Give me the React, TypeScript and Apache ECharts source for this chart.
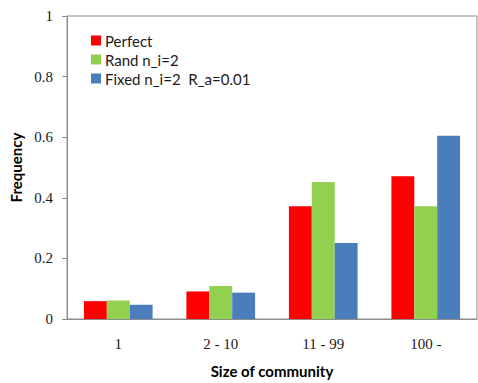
import React, { useEffect, useRef } from "react";
import * as echarts from "echarts";

const categories = ["1", "2 - 10", "11 - 99", "100 -"];
const perfect = [0.059, 0.091, 0.372, 0.471];
const randNi2 = [0.061, 0.109, 0.452, 0.372];
const fixedNi2 = [0.047, 0.087, 0.251, 0.605];
const yTicks = ["0", "0.2", "0.4", "0.6", "0.8", "1"];
const seriesNames = ["Perfect", "Rand n_i=2", "Fixed n_i=2  R_a=0.01"];
const colors = ["#FF0000", "#92D050", "#4A7EBB"];

export default function App() {
  const ref = useRef<HTMLDivElement>(null);
  useEffect(() => {
    const chart = echarts.init(ref.current!, null, { renderer: "svg" });
    const data = [perfect, randNi2, fixedNi2];
    chart.setOption({
      animation: false,
      backgroundColor: "#ffffff",
      grid: {
        left: 67,
        top: 16,
        right: 1,
        bottom: 59,
        show: true,
        borderColor: "#8C8C8C",
        borderWidth: 1,
      },
      legend: {
        orient: "vertical",
        left: 86,
        top: 28,
        itemWidth: 10,
        itemHeight: 10,
        itemGap: 4,
        icon: "rect",
        textStyle: { fontFamily: "Lato", fontSize: 15, lineHeight: 15, color: "#1a1a1a", padding: [0, 0, 0, -1] },
        data: seriesNames,
      },
      xAxis: {
        type: "category",
        data: categories,
        name: "Size of community",
        nameLocation: "middle",
        nameGap: 44,
        nameTextStyle: { fontFamily: "Lato", fontWeight: "bold", fontSize: 15, color: "#000" },
        axisLine: { lineStyle: { color: "#8C8C8C" } },
        axisTick: { show: false },
        axisLabel: { fontFamily: "Liberation Serif", fontSize: 15, color: "#1a1a1a", margin: 17 },
      },
      yAxis: {
        type: "value",
        min: 0,
        max: 1,
        interval: 0.2,
        name: "Frequency",
        nameLocation: "middle",
        nameGap: 40,
        nameTextStyle: { fontFamily: "Lato", fontWeight: "bold", fontSize: 15, color: "#000" },
        axisLine: { show: true, lineStyle: { color: "#8C8C8C" } },
        axisTick: { show: true, length: 5, lineStyle: { color: "#8C8C8C" } },
        splitLine: { show: false },
        axisLabel: {
          fontFamily: "Liberation Serif",
          fontSize: 15,
          color: "#1a1a1a",
          margin: 14,
          formatter: (v: number) => yTicks[Math.round(v * 5)],
        },
      },
      series: seriesNames.map((name, i) => ({
        name,
        type: "bar",
        data: data[i],
        barGap: "0%",
        barCategoryGap: "33%",
        itemStyle: { color: colors[i] },
      })),
    });
    return () => chart.dispose();
  }, []);
  return <div ref={ref} style={{ width: 478, height: 383, position: "absolute", left: 0, top: 0 }} />;
}
